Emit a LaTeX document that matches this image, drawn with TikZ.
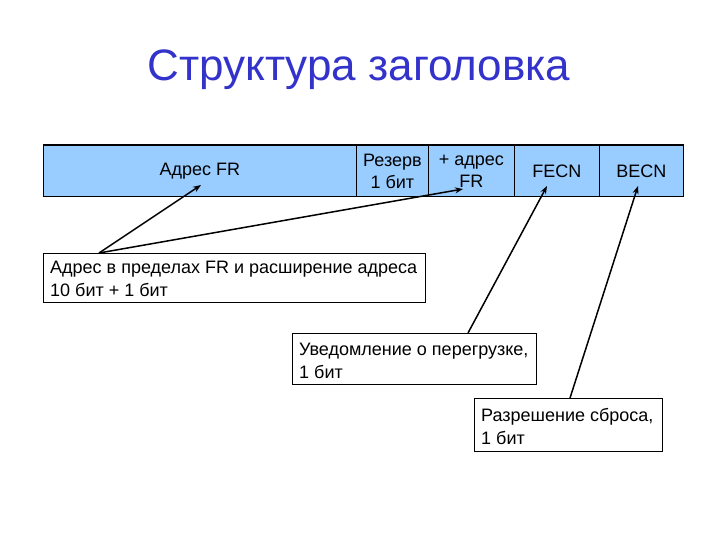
\documentclass[tikz,border=0pt]{standalone}
\usepackage{fontspec}
\setmainfont{Liberation Sans}
\usetikzlibrary{arrows.meta,calc}
\definecolor{titleblue}{RGB}{51,51,204}
\definecolor{cellblue}{RGB}{153,204,255}
\tikzset{
  cell/.style={draw=black, line width=0.8pt, fill=cellblue, anchor=north west,
    minimum height=51pt, inner sep=0pt, align=center,
    font=\fontsize{18}{22}\selectfont},
  notebox/.style={draw=black, line width=1pt, fill=white, anchor=north west,
    inner sep=0pt},
  notetext/.style={anchor=west, inner sep=0pt, align=left,
    font=\fontsize{18}{23}\selectfont},
  pointer/.style={line width=1.5pt, -{Stealth[length=8pt,width=6pt]}}
}
\begin{document}
\begin{tikzpicture}[x=1pt,y=-1pt]
\useasboundingbox (0,0) rectangle (720,540);
\node[font=\fontsize{44}{50}\selectfont, text=titleblue] (title) at (359,70) {Структура заголовка};

\node[cell, minimum width=313pt] (c1) at (43,145) {Адрес FR};
\node[cell, minimum width=72pt] (c2) at (356,145) {Резерв\\1 бит};
\node[cell, minimum width=86pt] (c3) at (428,145) {+ адрес\\FR};
\node[cell, minimum width=85pt] (c4) at (514,145) {FECN};
\node[cell, minimum width=84pt] (c5) at (599,145) {BECN};
\draw[line width=1pt] (c1.north west) rectangle (c5.south east);

\node[notebox, minimum width=382pt, minimum height=49pt] (b1) at (43,253) {};
\node[notetext] (b1t) at ($(b1.west)+(7,1)$)
  {Адрес в пределах FR и расширение адреса\\10 бит + 1 бит};
\node[notebox, minimum width=244pt, minimum height=51pt] (b2) at (292,333) {};
\node[notetext] (b2t) at ($(b2.west)+(7,2)$)
  {Уведомление о перегрузке,\\1 бит};
\node[notebox, minimum width=188pt, minimum height=53pt] (b3) at (474,398) {};
\node[notetext] (b3t) at ($(b3.west)+(7,1)$)
  {Разрешение сброса,\\1 бит};

\coordinate (s1) at ($(b1.north west)+(56,0)$);
\coordinate (s2) at ($(b2.north west)+(176,0)$);
\coordinate (s3) at ($(b3.north west)+(96,0)$);
\coordinate (t1) at (201,185);
\coordinate (t2) at (463,189);
\coordinate (t3) at (547,186);
\coordinate (t4) at (638,186);

\draw[pointer] (s1) -- (t1);
\draw[pointer] (s1) -- (t2);
\draw[pointer] (s2) -- (t3);
\draw[pointer] (s3) -- (t4);
\end{tikzpicture}
\end{document}
